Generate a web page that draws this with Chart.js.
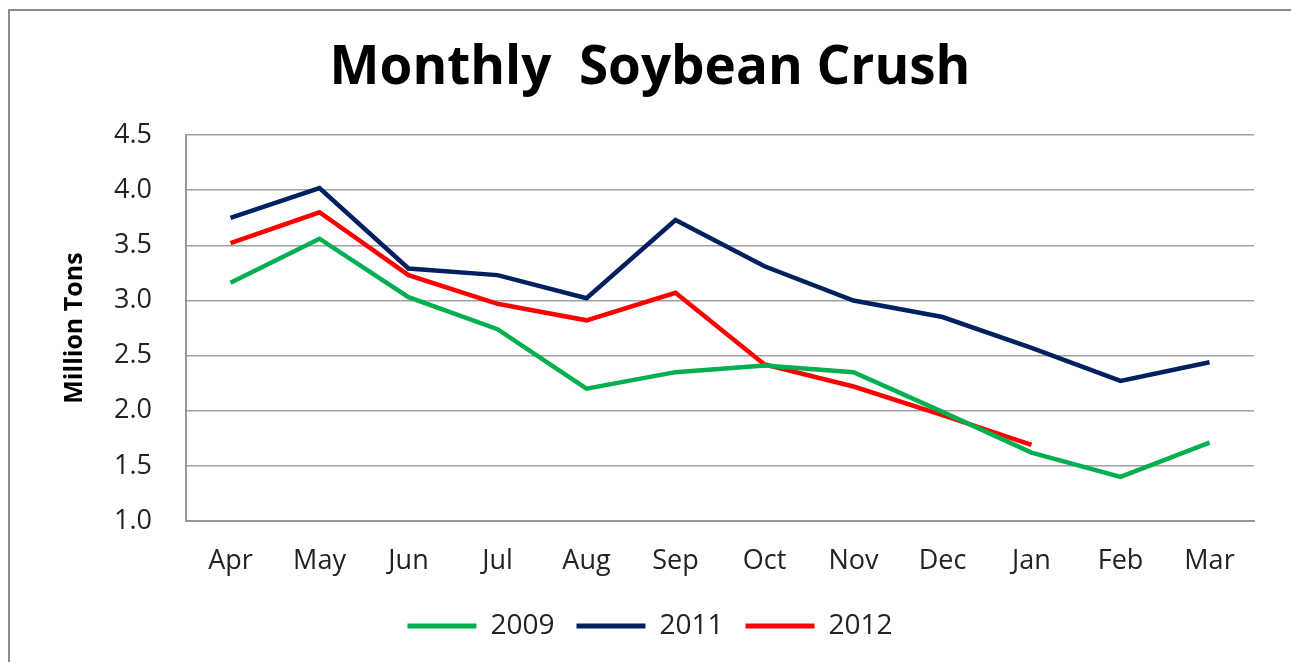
<!DOCTYPE html>
<html>
<head>
<meta charset="utf-8">
<script src="https://cdn.jsdelivr.net/npm/chart.js@4/dist/chart.umd.min.js"></script>
<style>
  html, body { margin: 0; padding: 0; background: #fff; overflow: hidden; }
  #frame { position: absolute; left: 8px; top: 9px; width: 1300px; height: 700px;
           border: 2px solid #8c8c8c; box-sizing: border-box; }
  #wrap { position: absolute; left: 0; top: 0; width: 1291px; height: 662px; }
</style>
</head>
<body>
<div id="frame"></div>
<div id="wrap"><canvas id="myChart" width="1291" height="662"></canvas></div>
<script>
// chart data
var months = ['Apr', 'May', 'Jun', 'Jul', 'Aug', 'Sep', 'Oct', 'Nov', 'Dec', 'Jan', 'Feb', 'Mar'];
var crush2009 = [3.16, 3.56, 3.03, 2.74, 2.20, 2.35, 2.41, 2.35, 1.99, 1.62, 1.40, 1.71];
var crush2011 = [3.75, 4.02, 3.29, 3.23, 3.02, 3.73, 3.31, 3.00, 2.85, 2.57, 2.27, 2.44];
var crush2012 = [3.52, 3.80, 3.23, 2.97, 2.82, 3.07, 2.42, 2.22, 1.96, 1.69, null, null];
var yTicks = [1.0, 1.5, 2.0, 2.5, 3.0, 3.5, 4.0, 4.5];

var font = '"Open Sans", sans-serif';

function makeSet(label, data, color) {
    return {
        label: label,
        data: data,
        borderColor: color,
        backgroundColor: color,
        borderWidth: 4.5,
        pointRadius: 0,
        tension: 0,
        spanGaps: false
    };
}

var ctx = document.getElementById('myChart').getContext('2d');
var myChart = new Chart(ctx, {
    type: 'line',
    data: {
        labels: months,
        datasets: [
            makeSet('2009', crush2009, '#00b050'),
            makeSet('2011', crush2011, '#002060'),
            makeSet('2012', crush2012, '#ff0000')
        ]
    },
    options: {
        responsive: false,
        animation: false,
        layout: { padding: { left: 46, right: 37, top: 0, bottom: 12 } },
        plugins: {
            title: {
                display: true,
                text: 'Monthly  Soybean Crush',
                color: '#000',
                font: { family: font, size: 53, weight: 'bold' },
                padding: { top: 37, bottom: 34.5 }
            },
            legend: {
                position: 'bottom',
                labels: {
                    color: '#222',
                    font: { family: font, size: 28 },
                    boxWidth: 69,
                    boxHeight: 5,
                    padding: 22,
                    generateLabels: function(chart) {
                        return chart.data.datasets.map(function(ds, i) {
                            return {
                                text: ds.label,
                                fillStyle: ds.borderColor,
                                strokeStyle: ds.borderColor,
                                lineWidth: 0,
                                fontColor: '#222',
                                datasetIndex: i
                            };
                        });
                    }
                }
            },
            tooltip: { enabled: false }
        },
        scales: {
            x: {
                offset: true,
                grid: { display: false, drawTicks: false },
                border: { display: true, color: '#999', width: 2 },
                ticks: { color: '#222', font: { family: font, size: 27 }, padding: 24, maxRotation: 0 },
                afterFit: function(scale) { scale.height = 69; }
            },
            y: {
                min: 1.0,
                max: 4.5,
                afterBuildTicks: function(scale) {
                    scale.ticks = yTicks.map(function(v) { return { value: v }; });
                },
                grid: { color: '#a0a0a0', lineWidth: 1.5, drawTicks: false },
                border: { display: true, color: '#999', width: 2 },
                ticks: {
                    color: '#222',
                    font: { family: font, size: 27 },
                    padding: 34,
                    callback: function(v) { return v.toFixed(1); }
                },
                title: {
                    display: true,
                    text: 'Million Tons',
                    color: '#000',
                    font: { family: font, size: 25, weight: 'bold' },
                    padding: { top: 14, bottom: 0 }
                },
                afterFit: function(scale) { scale.width = 140; }
            }
        }
    }
});
</script>
</body>
</html>
